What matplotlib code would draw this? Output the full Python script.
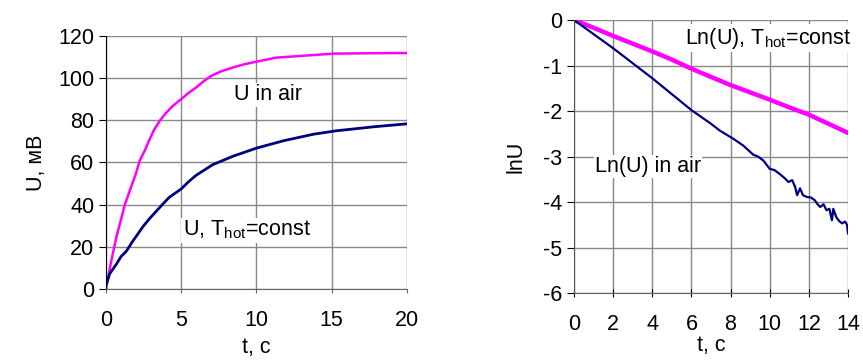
import matplotlib
matplotlib.use("Agg")
import matplotlib.pyplot as plt

plt.rcParams['font.family'] = ['Liberation Sans', 'DejaVu Sans']
plt.rcParams['mathtext.fontset'] = 'custom'
plt.rcParams['mathtext.rm'] = 'Liberation Sans'
plt.rcParams['font.size'] = 15.5
plt.rcParams['axes.unicode_minus'] = False

# left panel: U(t), mV
t_air = [0, 0.2, 0.4, 0.7, 1.0, 1.25, 1.5, 1.8, 2.0, 2.25, 2.6, 2.9, 3.2, 3.6, 4.0, 4.4,
         5.0, 5.5, 6.0, 6.5, 7.0, 7.6, 8.45, 9.2, 10.0, 11.3, 12.9, 15.1, 17.5, 20.0]
u_air = [0, 8, 15, 25, 33, 40, 45, 51, 55, 61, 66, 71, 75.5, 80, 83.5, 86.5,
         90, 93, 95.5, 98.5, 101, 103, 105, 106.5, 107.7, 109.6, 110.4, 111.5, 111.7, 111.8]

t_const = [0, 0.25, 0.7, 1.0, 1.35, 1.8, 2.1, 2.46, 2.9, 3.35, 3.8, 4.2, 5.0, 5.5, 6.0,
           7.1, 8.45, 10.0, 11.8, 13.8, 15.3, 17.8, 20.0]
u_const = [2, 7.4, 12, 15.5, 18, 23, 26, 29.7, 33.5, 37, 40.5, 43.5, 47.5, 51, 54,
           59, 63, 66.8, 70.3, 73.4, 75, 76.9, 78.3]

# right panel: ln U(t)
t_ln_const = [0, 1, 2, 3, 4, 5, 6, 7, 8, 9, 10, 11, 12, 13, 14]
ln_const = [0, -0.17, -0.35, -0.52, -0.69, -0.87, -1.07, -1.25, -1.43, -1.59, -1.75,
            -1.92, -2.08, -2.28, -2.48]

t_ln_air = [0, 1, 2, 3, 4, 5, 6, 7, 7.45, 8.14, 8.65, 9.16, 9.4, 9.68, 10.0, 10.25, 10.5,
            10.75, 10.96, 11.15, 11.3, 11.4, 11.55, 11.7, 11.9, 12.1, 12.3, 12.45, 12.58,
            12.75, 12.9, 13.05, 13.18, 13.25, 13.4, 13.55, 13.7, 13.85, 13.95, 14.0]
ln_air = [0, -0.31, -0.62, -0.95, -1.28, -1.63, -1.98, -2.28, -2.43, -2.61, -2.76, -2.96,
          -3.0, -3.09, -3.27, -3.3, -3.38, -3.47, -3.56, -3.52, -3.67, -3.85, -3.7, -3.85,
          -3.89, -3.9, -3.96, -4.05, -4.11, -4.05, -4.18, -4.15, -4.4, -4.15, -4.33, -4.42,
          -4.47, -4.43, -4.5, -4.69]

magenta = '#ff00ff'
navy = '#000080'
gridc = '#888888'

fig = plt.figure(figsize=(8.63, 3.63), dpi=100)
ax1 = fig.add_axes([0.1228, 0.203, 0.3488, 0.6987])
ax2 = fig.add_axes([0.6651, 0.1928, 0.3175, 0.7521])

for ax in (ax1, ax2):
    ax.grid(True, color=gridc, linewidth=1.0)
    ax.set_axisbelow(True)
    ax.spines['top'].set_visible(False)
    ax.spines['right'].set_visible(False)
    ax.spines['bottom'].set_color('#666666')

ax1.spines['left'].set_color('black')
ax2.spines['left'].set_color('#555555')

# left
ax1.plot(t_air, u_air, color=magenta, linewidth=1.8)
ax1.plot(t_const, u_const, color=navy, linewidth=2.0)
ax1.set_xlim(0, 20)
ax1.set_ylim(0, 120)
ax1.set_xticks([0, 5, 10, 15, 20])
ax1.set_yticks(range(0, 121, 20))
ax1.tick_params(axis='y', direction='out', length=5, color='black')
ax1.tick_params(axis='x', direction='out', length=3, color='#666666', pad=12)
ax1.set_xlabel('t, с', labelpad=4)
ax1.set_ylabel('U, мВ', labelpad=8)
box = dict(facecolor='white', edgecolor='none', pad=1)
ax1.text(8.5, 92, 'U in air', va='center', ha='left', bbox=box)
ax1.text(5.1, 28, r'U, T$_{\mathrm{hot}}$=const', va='center', ha='left', bbox=box)

# right
ax2.plot(t_ln_const, ln_const, color=magenta, linewidth=3.2)
ax2.plot(t_ln_air, ln_air, color=navy, linewidth=1.6)
ax2.set_xlim(0, 14)
ax2.set_ylim(-6, 0)
ax2.set_xticks(range(0, 15, 2))
ax2.set_yticks(range(-6, 1))
ax2.tick_params(axis='y', direction='out', length=5, color='black')
ax2.tick_params(axis='x', direction='inout', length=6, color='black', pad=12)
ax2.set_xlabel('t, с', labelpad=0)
ax2.set_ylabel('lnU', labelpad=12)
ax2.text(5.66, -0.40, r'Ln(U), T$_{\mathrm{hot}}$=const', va='center', ha='left', bbox=box)
ax2.text(1.07, -3.22, 'Ln(U) in air', va='center', ha='left', bbox=box)

fig.savefig('out.png', dpi=100)
